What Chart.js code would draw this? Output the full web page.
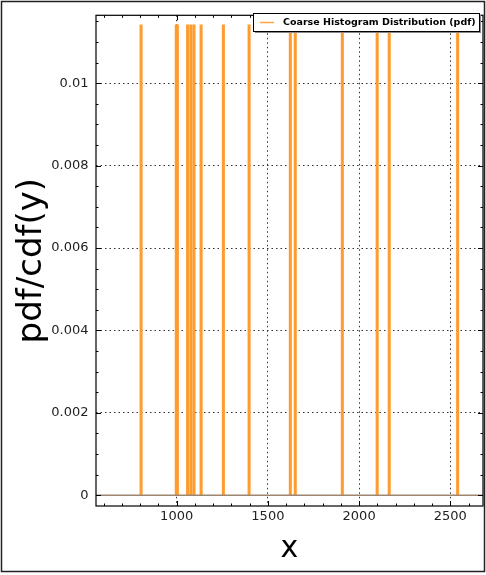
<!DOCTYPE html>
<html>
<head>
<meta charset="utf-8">
<script src="https://cdn.jsdelivr.net/npm/chart.js@4.4.1/dist/chart.umd.min.js"></script>
<style>
	html, body { margin: 0; padding: 0; background: #fff; }
	#wrap { width: 486px; height: 575px; position: relative; }
</style>
</head>
<body>
<div id="wrap"><canvas id="pdf-chart"></canvas></div>
<script>
// Coarse histogram: bin centres (x) and pdf value of each bin
const binCenters = [805, 998, 1004, 1060, 1078, 1095, 1134, 1256, 1397, 1623, 1650, 1908, 2099, 2165, 2540];
const binValues = [0.01142, 0.01142, 0.01142, 0.01142, 0.01142, 0.01142, 0.01142, 0.01142,
	0.01142, 0.01142, 0.01142, 0.01142, 0.01142, 0.01142, 0.01142];

// Axis limits and tick labels
const xRange = [558, 2679];
const yRange = [-0.00026, 0.01165];
const xTicks = [1000, 1500, 2000, 2500];
const yTicks = [0, 0.002, 0.004, 0.006, 0.008, 0.01];

const seriesLabel = 'Coarse Histogram Distribution (pdf)';

/* Frame, inward ticks, legend box and figure border */
const decorPlugin = {
	id: 'decor',
	afterDraw(chart) {
		const { ctx, chartArea: a, scales } = chart;
		ctx.save();

		// inward ticks on all four sides
		ctx.strokeStyle = '#000';
		ctx.lineWidth = 1;
		ctx.beginPath();
		for (let v = 600; v <= xRange[1]; v += 100) {
			const px = Math.round(scales.x.getPixelForValue(v)) + 0.5;
			const len = v % 500 === 0 ? 5 : 2.5;
			ctx.moveTo(px, a.bottom); ctx.lineTo(px, a.bottom - len);
			ctx.moveTo(px, a.top); ctx.lineTo(px, a.top + len);
		}
		for (let i = 0; i <= 23; i++) {
			const v = i * 0.0005;
			const py = Math.round(scales.y.getPixelForValue(v)) + 0.5;
			const len = i % 4 === 0 ? 5 : 2.5;
			ctx.moveTo(a.left, py); ctx.lineTo(a.left + len, py);
			ctx.moveTo(a.right, py); ctx.lineTo(a.right - len, py);
		}
		ctx.stroke();

		// plot frame
		ctx.lineWidth = 1.2;
		ctx.strokeRect(a.left, a.top, a.right - a.left, a.bottom - a.top);

		// legend box with a shadow
		const bx = 253, by = 13, bw = 226, bh = 18;
		ctx.fillStyle = '#8a8a8a';
		ctx.fillRect(bx + 2, by + 2, bw, bh);
		ctx.fillStyle = '#fff';
		ctx.fillRect(bx, by, bw, bh);
		ctx.lineWidth = 1;
		ctx.strokeStyle = '#000';
		ctx.strokeRect(bx + 0.5, by + 0.5, bw, bh);
		ctx.strokeStyle = '#ffa640';
		ctx.lineWidth = 1.5;
		ctx.beginPath();
		ctx.moveTo(bx + 7, by + 9.5); ctx.lineTo(bx + 21, by + 9.5);
		ctx.stroke();
		ctx.fillStyle = '#000';
		ctx.font = 'bold 9.5px "DejaVu Sans"';
		ctx.textBaseline = 'middle';
		ctx.fillText(chart.data.datasets[1].label, bx + 30, by + 9.5);

		// outer figure border
		ctx.lineWidth = 1.5;
		ctx.strokeStyle = '#222';
		ctx.strokeRect(1.5, 1.5, 483, 570);
		ctx.restore();
	}
};

const ctx = document.getElementById('pdf-chart').getContext('2d');

new Chart(ctx, {
	type: 'bar',
	data: {
		datasets: [{
			type: 'line',
			label: 'baseline',
			data: xRange.map(x => ({ x: x, y: 0 })),
			borderColor: '#9c8670',
			borderWidth: 1.5,
			pointRadius: 0
		}, {
			label: seriesLabel,
			data: binCenters.map((x, i) => ({ x: x, y: binValues[i] })),
			backgroundColor: '#ff9c30',
			borderWidth: 0,
			barThickness: 2.4,
			grouped: false
		}]
	},
	plugins: [decorPlugin],
	options: {
		responsive: true,
		maintainAspectRatio: false,
		animation: false,
		events: [],
		layout: { padding: { left: 3, right: 3, top: 7, bottom: 4 } },
		plugins: {
			legend: { display: false },
			tooltip: { enabled: false }
		},
		scales: {
			x: {
				type: 'linear',
				min: xRange[0],
				max: xRange[1],
				offset: false,
				afterBuildTicks: s => { s.ticks = xTicks.map(v => ({ value: v })); },
				afterFit: s => { s.height = 65; },
				grid: { color: '#333', lineWidth: 1, drawTicks: false, offset: false },
				border: { display: false, dash: [1.5, 3] },
				ticks: {
					padding: 3,
					color: '#222',
					font: { family: 'DejaVu Sans', size: 13 },
					callback: v => String(v)
				},
				title: {
					display: true,
					text: 'x',
					color: '#000',
					font: { family: 'DejaVu Sans', size: 30 },
					padding: { top: 0, bottom: 4 }
				}
			},
			y: {
				min: yRange[0],
				max: yRange[1],
				afterBuildTicks: s => { s.ticks = yTicks.map(v => ({ value: v })); },
				afterFit: s => { s.width = 93; },
				grid: { color: '#333', lineWidth: 1, drawTicks: false },
				border: { display: false, dash: [1.5, 3] },
				ticks: {
					padding: 7.5,
					color: '#222',
					font: { family: 'DejaVu Sans', size: 13 },
					callback: v => String(+v.toFixed(4))
				},
				title: {
					display: true,
					text: 'pdf/cdf(y)',
					color: '#000',
					font: { family: 'DejaVu Sans', size: 34 },
					padding: { top: 9, bottom: 0 }
				}
			}
		}
	}
});
</script>
</body>
</html>
